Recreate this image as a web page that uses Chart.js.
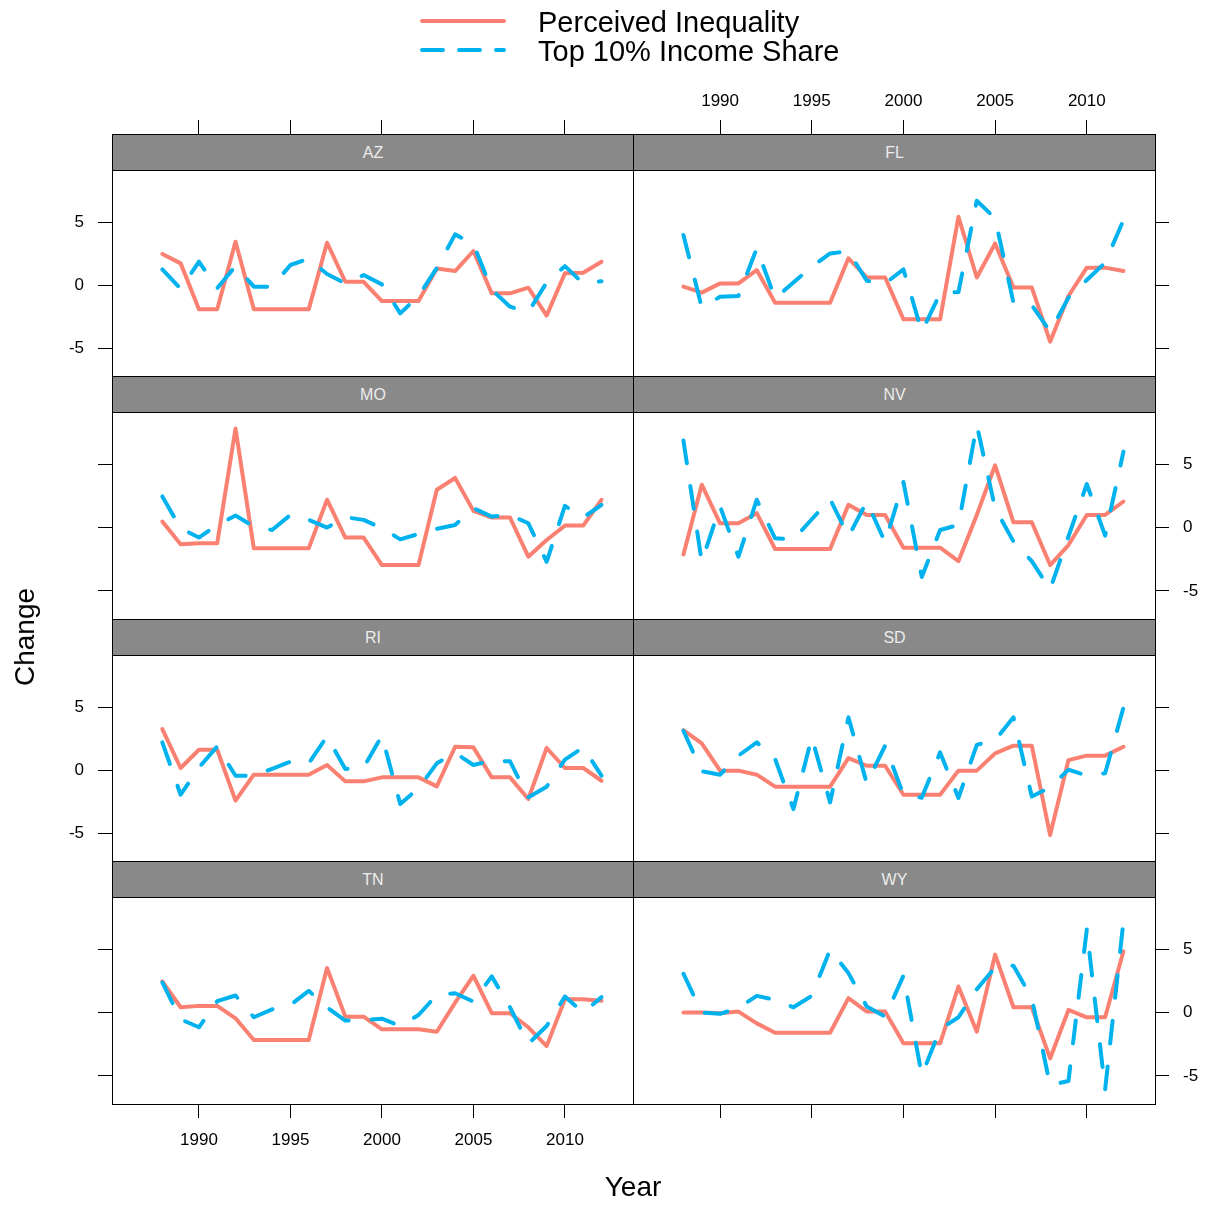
<!DOCTYPE html>
<html>
<head>
<meta charset="utf-8">
<script src="https://cdn.jsdelivr.net/npm/chart.js@4.4.1/dist/chart.umd.min.js"></script>
<style>
html, body { margin: 0; padding: 0; background: #ffffff; }
#root { position: relative; width: 1210px; height: 1205px; overflow: hidden; font-family: 'Liberation Sans', Arial, Helvetica, sans-serif; }
#root canvas { position: absolute; }
.strip { position: absolute; background: #898989; border: 1px solid #000; box-sizing: border-box; color: #ececec; font-size: 16px; text-align: center; }
.frame { position: absolute; border: 1px solid #000; box-sizing: border-box; pointer-events: none; }
.txt { position: absolute; white-space: nowrap; color: #000; }
</style>
</head>
<body>
<div id="root"></div>
<script>
// ---------------- data ----------------
const years = [1988, 1989, 1990, 1991, 1992, 1993, 1994, 1995, 1996, 1997, 1998, 1999, 2000,
               2001, 2002, 2003, 2004, 2005, 2006, 2007, 2008, 2009, 2010, 2011, 2012];
const xTickValues = [1990, 1995, 2000, 2005, 2010];
const yTickValues = [-5, 0, 5];
const seriesNames = ['Perceived Inequality', 'Top 10% Income Share'];
const states = ['AZ', 'FL', 'MO', 'NV', 'RI', 'SD', 'TN', 'WY'];

const azPerceived = [2.46, 1.72, -1.93, -1.93, 3.44, -1.93, -1.93, -1.93, -1.93, 3.36, 0.26, 0.26, -1.27, -1.27, -1.27, 1.32, 1.11, 2.70, -0.66, -0.66, -0.21, -2.43, 0.93, 0.98, 1.85];
const azTop10     = [1.24, -0.30, 1.85, -0.25, 1.50, -0.13, -0.13, 1.59, 2.09, 0.87, 0.13, 0.79, 0.05, -2.25, -0.87, 1.35, 4.02, 3.25, -0.37, -1.72, -2.14, 0.20, 1.50, 0.13, 0.30];

const flPerceived = [-0.13, -0.60, 0.13, 0.13, 1.19, -1.40, -1.40, -1.40, -1.40, 2.12, 0.60, 0.60, -2.72, -2.72, -2.72, 5.42, 0.60, 3.30, -0.19, -0.19, -4.50, -0.87, 1.38, 1.38, 1.11];
const flTop10     = [3.97, -1.77, -0.93, -0.87, 2.91, -1.06, 0.21, 1.45, 2.51, 2.67, 0.34, 0.13, 1.24, -3.70, -0.66, -0.56, 6.69, 5.30, -1.40, -1.59, -3.70, -1.00, 0.40, 1.77, 5.16];

const moPerceived = [0.48, -1.32, -1.24, -1.24, 7.83, -1.64, -1.64, -1.64, -1.64, 2.20, -0.79, -0.79, -2.96, -2.96, -2.96, 2.99, 3.92, 1.32, 0.79, 0.79, -2.30, -0.98, 0.16, 0.16, 2.20];
const moTop10     = [2.46, -0.05, -0.79, 0.21, 0.95, 0.08, -0.19, 1.00, 0.61, 0.00, 0.82, 0.61, -0.05, -0.93, -0.50, -0.10, 0.21, 1.53, 0.87, 1.00, 0.34, -2.70, 1.72, 0.79, 1.80];

const nvPerceived = [-2.12, 3.39, 0.34, 0.34, 1.14, -1.69, -1.69, -1.69, -1.69, 1.80, 1.00, 1.00, -1.59, -1.59, -1.59, -2.65, 1.00, 4.92, 0.42, 0.42, -2.96, -1.38, 1.00, 1.00, 2.06];
const nvTop10     = [6.88, -2.70, 1.67, -2.30, 2.20, -0.85, -0.93, 0.66, 2.25, -0.71, 2.06, -1.16, 3.60, -3.90, -0.19, 0.21, 8.10, 1.53, -1.10, -2.65, -4.87, -0.70, 3.44, -0.63, 6.00];

const riPerceived = [3.25, 0.16, 1.61, 1.61, -2.43, -0.37, -0.37, -0.37, -0.37, 0.40, -0.90, -0.90, -0.58, -0.58, -0.58, -1.30, 1.85, 1.80, -0.58, -0.58, -2.30, 1.75, 0.16, 0.16, -0.85];
const riTop10     = [2.20, -1.96, 0.20, 1.88, -0.45, -0.45, 0.10, 0.66, 0.53, 2.67, 0.08, 0.21, 2.72, -2.70, -1.43, 0.53, 1.35, 0.40, 0.74, 0.69, -2.17, -1.32, 0.82, 1.80, -0.45];

const sdPerceived = [3.17, 2.12, -0.05, -0.05, -0.37, -1.32, -1.32, -1.32, -1.32, 0.95, 0.34, 0.34, -1.96, -1.96, -1.96, -0.05, -0.05, 1.32, 1.93, 1.93, -5.16, 0.79, 1.14, 1.14, 1.85];
const sdTop10     = [3.12, -0.10, -0.37, 1.14, 2.20, 0.87, -3.10, 2.60, -2.57, 4.18, -1.06, 1.93, -1.96, -2.20, 1.40, -2.22, 2.00, 2.38, 4.18, -2.10, -1.38, 0.03, -0.45, -0.26, 4.97];

const tnPerceived = [2.46, 0.42, 0.53, 0.53, -0.45, -2.17, -2.17, -2.17, -2.17, 3.52, -0.32, -0.32, -1.32, -1.32, -1.32, -1.51, 0.79, 2.91, -0.05, -0.05, -1.16, -2.65, 1.06, 1.06, 0.93];
const tnTop10     = [2.38, -0.53, -1.16, 0.90, 1.35, -0.37, 0.26, 0.61, 1.72, 0.42, -0.63, -0.58, -0.48, -1.06, -0.19, 1.40, 1.53, 0.87, 2.86, 0.40, -2.46, -1.06, 1.27, 0.00, 1.22];

const wyPerceived = [0.00, 0.00, -0.05, 0.08, -0.85, -1.59, -1.59, -1.59, -1.59, 1.14, 0.08, 0.08, -2.43, -2.43, -2.43, 2.06, -1.51, 4.58, 0.42, 0.42, -3.62, 0.21, -0.37, -0.37, 4.84];
const wyTop10     = [3.07, 0.00, -0.10, 0.37, 1.32, 1.00, 0.42, 1.32, 4.97, 3.12, 0.48, -0.32, 2.91, -4.95, -1.32, -0.37, 1.85, 3.57, 3.70, 1.14, -5.74, -5.40, 6.56, -6.08, 7.22];

const perceivedByState = [azPerceived, flPerceived, moPerceived, nvPerceived, riPerceived, sdPerceived, tnPerceived, wyPerceived];
const top10ByState = [azTop10, flTop10, moTop10, nvTop10, riTop10, sdTop10, tnTop10, wyTop10];

// ---------------- layout / style ----------------
const PAGE_W = 1210, PAGE_H = 1205;
const COL_L = [112, 633], COL_R = [633, 1155];
const STRIP_T = [134, 376, 619, 861];
const PANEL_T = [170, 412, 655, 897];
const PANEL_B = [376, 619, 861, 1104];
const X_MIN = 1985.25, X_MAX = 2013.72;
const Y_MIN = -7.22, Y_MAX = 9.13;
const RED = '#FA8072', BLUE = '#00B2EE';
const FONT = "'Liberation Sans', Arial, Helvetica, sans-serif";
const tickFont = { family: FONT, size: 17 };

const root = document.getElementById('root');

function addText(text, left, top, size, extra) {
  const d = document.createElement('div');
  d.className = 'txt';
  d.textContent = text;
  d.style.left = left + 'px';
  d.style.top = top + 'px';
  d.style.fontSize = size + 'px';
  if (extra) Object.assign(d.style, extra);
  root.appendChild(d);
  return d;
}

const charts = [];
states.forEach((st, i) => {
  const row = Math.floor(i / 2), col = i % 2;
  const cx0 = col === 0 ? 0 : COL_L[1];
  const cx1 = col === 0 ? COL_R[0] : PAGE_W;
  const cy0 = row === 0 ? 0 : PANEL_T[row];
  const cy1 = row === 3 ? PAGE_H : PANEL_B[row];
  const WL = col === 0 ? COL_L[0] : 0;
  const WR = col === 1 ? PAGE_W - COL_R[1] : 0;
  const HT = row === 0 ? PANEL_T[0] : 0;
  const HB = row === 3 ? PAGE_H - PANEL_B[3] : 0;

  const cv = document.createElement('canvas');
  cv.width = cx1 - cx0;
  cv.height = cy1 - cy0;
  cv.style.left = cx0 + 'px';
  cv.style.top = cy0 + 'px';
  cv.style.width = (cx1 - cx0) + 'px';
  cv.style.height = (cy1 - cy0) + 'px';
  root.appendChild(cv);

  const showX = row === 0 || row === 3;
  const xLabels = row === 0 ? col === 1 : col === 0;
  const yLabels = col === 0 ? (row % 2 === 0) : (row % 2 === 1);

  const chart = new Chart(cv.getContext('2d'), {
    type: 'line',
    data: {
      datasets: [
        {
          label: seriesNames[1],
          data: years.map((y, k) => ({ x: y, y: top10ByState[i][k] })),
          borderColor: BLUE,
          borderWidth: 4,
          borderDash: [23, 23],
          borderCapStyle: 'round',
          borderJoinStyle: 'round',
          pointRadius: 0,
          pointHoverRadius: 0,
          tension: 0,
          fill: false,
          order: 0
        },
        {
          label: seriesNames[0],
          data: years.map((y, k) => ({ x: y, y: perceivedByState[i][k] })),
          borderColor: RED,
          borderWidth: 4,
          borderCapStyle: 'round',
          borderJoinStyle: 'round',
          pointRadius: 0,
          pointHoverRadius: 0,
          tension: 0,
          fill: false,
          order: 1
        }
      ]
    },
    options: {
      responsive: false,
      maintainAspectRatio: false,
      animation: false,
      events: [],
      devicePixelRatio: 1,
      layout: { padding: 0 },
      plugins: { legend: { display: false }, tooltip: { enabled: false }, title: { display: false } },
      scales: {
        x: {
          type: 'linear',
          display: showX,
          position: row === 0 ? 'top' : 'bottom',
          min: X_MIN,
          max: X_MAX,
          afterBuildTicks: s => { s.ticks = xTickValues.map(v => ({ value: v })); },
          afterFit: s => { s.height = row === 0 ? HT : HB; s.paddingLeft = 0; s.paddingRight = 0; },
          grid: { drawOnChartArea: false, drawTicks: true, tickLength: row === 0 ? 50 : 14, color: '#000', lineWidth: 1 },
          border: { display: false },
          ticks: {
            display: xLabels,
            autoSkip: false,
            maxRotation: 0,
            minRotation: 0,
            padding: row === 0 ? 8 : 12,
            color: '#000',
            font: tickFont,
            callback: v => String(v)
          }
        },
        y: {
          type: 'linear',
          position: col === 0 ? 'left' : 'right',
          min: Y_MIN,
          max: Y_MAX,
          afterBuildTicks: s => { s.ticks = yTickValues.map(v => ({ value: v })); },
          afterFit: s => { s.width = col === 0 ? WL : WR; s.paddingTop = 0; s.paddingBottom = 0; },
          grid: { drawOnChartArea: false, drawTicks: true, tickLength: 14, color: '#000', lineWidth: 1 },
          border: { display: false },
          ticks: {
            display: yLabels,
            autoSkip: false,
            padding: 14,
            color: '#000',
            font: tickFont,
            callback: v => String(v)
          }
        }
      }
    }
  });
  charts.push(chart);

  // strip
  const sx0 = COL_L[col], sx1 = COL_R[col];
  const strip = document.createElement('div');
  strip.className = 'strip';
  strip.style.left = sx0 + 'px';
  strip.style.top = STRIP_T[row] + 'px';
  strip.style.width = (sx1 - sx0 + 1) + 'px';
  strip.style.height = (PANEL_T[row] - STRIP_T[row] + 1) + 'px';
  strip.style.lineHeight = (PANEL_T[row] - STRIP_T[row] - 1) + 'px';
  strip.textContent = st;
  root.appendChild(strip);

  // panel frame
  const fr = document.createElement('div');
  fr.className = 'frame';
  fr.style.left = sx0 + 'px';
  fr.style.top = PANEL_T[row] + 'px';
  fr.style.width = (sx1 - sx0 + 1) + 'px';
  fr.style.height = (PANEL_B[row] - PANEL_T[row] + 1) + 'px';
  root.appendChild(fr);
});

// legend
const svgNS = 'http://www.w3.org/2000/svg';
const svg = document.createElementNS(svgNS, 'svg');
svg.setAttribute('width', '120');
svg.setAttribute('height', '70');
svg.style.position = 'absolute';
svg.style.left = '400px';
svg.style.top = '0px';
function legLine(y, color, dash) {
  const l = document.createElementNS(svgNS, 'line');
  l.setAttribute('x1', '22'); l.setAttribute('x2', '104');
  l.setAttribute('y1', String(y)); l.setAttribute('y2', String(y));
  l.setAttribute('stroke', color);
  l.setAttribute('stroke-width', '4');
  l.setAttribute('stroke-linecap', 'round');
  if (dash) l.setAttribute('stroke-dasharray', dash);
  svg.appendChild(l);
}
legLine(21, RED, null);
legLine(50, BLUE, '21 16');
root.appendChild(svg);
addText(seriesNames[0], 538, 5, 29, { lineHeight: '34px' });
addText(seriesNames[1], 538, 34, 29, { lineHeight: '34px' });

// axis titles
addText('Year', 633, 1170, 28, { lineHeight: '34px', transform: 'translateX(-50%)' });
const ch = addText('Change', 25, 637, 28, { lineHeight: '34px' });
ch.style.left = '25px';
ch.style.top = '637px';
ch.style.transform = 'translate(-50%, -50%) rotate(-90deg)';
</script>
</body>
</html>
